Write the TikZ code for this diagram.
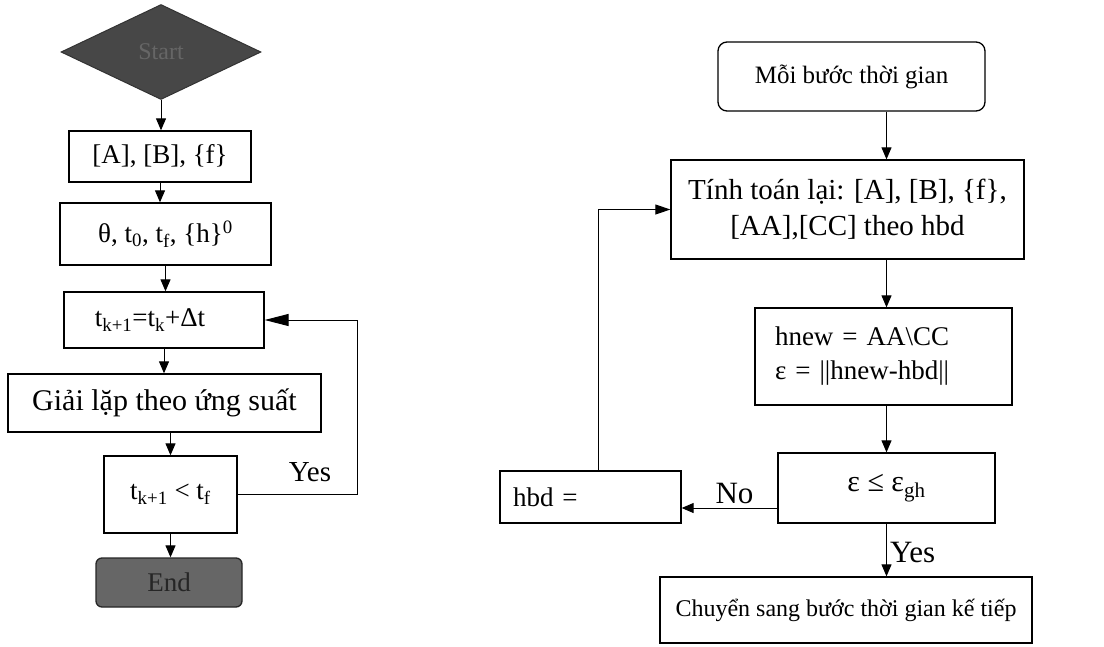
\documentclass[tikz,border=0pt]{standalone}
\usepackage{fontspec}
\setmainfont{Liberation Serif}
\usetikzlibrary{arrows.meta,shapes.geometric}

\begin{document}
\begin{tikzpicture}[x=1pt,y=-1pt,
  box/.style={draw,line width=1.3pt,inner sep=0pt,font=\fontsize{27}{32}\selectfont},
  arr/.style={line width=1pt,-{Triangle[length=12pt,width=10pt]}},
  lbl/.style={font=\fontsize{31}{34}\selectfont}]

\useasboundingbox (0,0) rectangle (1104,646);

\node[diamond,draw=black!80,fill=black!72,text=black!60,line width=1pt,inner sep=0pt,minimum width=200pt,minimum height=95pt,font=\fontsize{24}{28}\selectfont] (start) at (161,52) {Start};
\node[box,minimum width=182pt,minimum height=51pt] (matAB) at (160,156.5) {[A], [B], \{f\}};
\node[box,minimum width=211pt,minimum height=62pt] (params) at (165.5,234) {θ, t\textsubscript{0}, t\textsubscript{f}, \{h\}\textsuperscript{0}};
\node[box,minimum width=200pt,minimum height=56pt] (tstep) at (164,320) {\hspace*{-28pt}t\textsubscript{k+1}=t\textsubscript{k}+Δt};
\node[box,minimum width=313pt,minimum height=58pt,font=\fontsize{30}{34}\selectfont] (solve) at (164.5,403) {Giải lặp theo ứng suất};
\node[box,minimum width=133pt,minimum height=77pt] (check) at (170.5,494.5) {t\textsubscript{k+1} < t\textsubscript{f}};
\node[box,rounded corners=6pt,draw=black!85,fill=black!60,text=black!85,minimum width=146pt,minimum height=49pt] (stop) at (169,582.5) {End};

\draw[arr] (start.south) -- (start.south |- matAB.north);
\draw[arr] (matAB.south) -- (matAB.south |- params.north);
\draw[arr] (params.south) -- (params.south |- tstep.north);
\draw[arr] (tstep.south) -- (tstep.south |- solve.north);
\draw[arr] (solve.south -| check.north) -- (check.north);
\draw[arr] (check.south) -- (check.south |- stop.north);
\draw[line width=1pt,-{Triangle[length=24pt,width=12pt]}] (check.east) -- ++(120,0) |- (tstep.east);
\node[lbl,font=\fontsize{29}{32}\selectfont] (yesloop) at (310,472) {Yes};

\node[box,rounded corners=9pt,font=\fontsize{25}{30}\selectfont,minimum width=267pt,minimum height=69pt] (each) at (851.5,76.5) {Mỗi bước thời gian};
\node[box,align=center,font=\fontsize{29}{36}\selectfont,minimum width=353pt,minimum height=99pt] (recalc) at (847.5,209.5) {Tính toán lại: [A], [B], \{f\},\\{}[AA],[CC] theo hbd};
\node[box,align=left,text width=217pt,inner xsep=20pt,font=\fontsize{27}{34}\selectfont,minimum height=97pt] (solveh) at (883.5,356.5) {hnew = AA\textbackslash CC\\ε = ||hnew-hbd||};
\node[box,minimum width=217pt,minimum height=70pt,font=\fontsize{30}{34}\selectfont] (conv) at (886.5,488) {\raisebox{-3pt}{ε ≤ ε\textsubscript{gh}}};
\node[box,align=left,text width=155pt,inner xsep=13pt,minimum height=52pt] (update) at (590.5,497) {\raisebox{-8pt}{hbd =}};
\node[box,font=\fontsize{24}{28}\selectfont,minimum width=372pt,minimum height=66pt] (next) at (846,610) {Chuyển sang bước thời gian kế tiếp};

\draw[arr] (each.south -| conv.north) -- (recalc.north -| conv.north);
\draw[arr] (recalc.south -| conv.north) -- (solveh.north -| conv.north);
\draw[arr] (solveh.south -| conv.north) -- (conv.north);
\draw[arr] (conv.south) -- (next.north -| conv.south) node[lbl,right,pos=0.55,inner sep=3pt] (yesconv) {Yes};
\path (conv.west) ++(0,20) coordinate (nostart);
\draw[arr] (nostart) -- (nostart -| update.east) node[lbl,midway,above,xshift=5pt] (nolbl) {No};
\draw[line width=1pt,-{Triangle[length=15pt,width=10pt]}] ([xshift=8pt]update.north) |- (recalc.west);

\end{tikzpicture}
\end{document}
